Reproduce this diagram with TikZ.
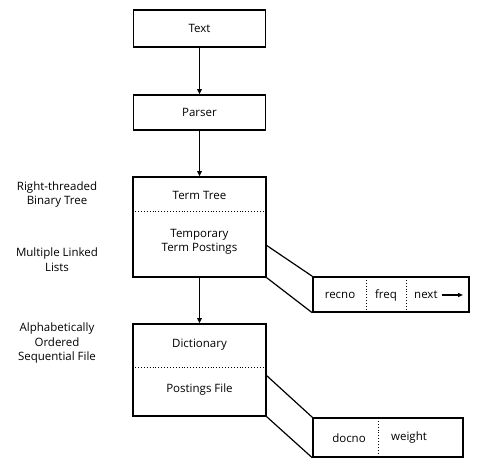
\documentclass[tikz,border=0pt]{standalone}
\usepackage{fontspec}
\setmainfont{Open Sans}
\usetikzlibrary{arrows.meta}
\begin{document}
\begin{tikzpicture}[x=1pt,y=-1pt,
  box/.style={draw,line width=1.5pt,rectangle,inner sep=0pt},
  lbl/.style={font=\fontsize{11.5}{14.5}\selectfont,inner sep=0pt,align=center},
  arr/.style={-{Triangle[length=5pt,width=4.5pt]},line width=1.3pt},
  sep/.style={dotted,line width=0.9pt},
  link/.style={line width=1.2pt}]
\useasboundingbox (0,0) rectangle (485,470);
% main column
\node[box,minimum width=132pt,minimum height=37pt] (text) at (199.5,28.5) {};
\node[lbl] (textl) at (text.center) {Text};
\node[box,minimum width=132pt,minimum height=35pt] (parser) at (199.5,112.5) {};
\node[lbl] (parserl) at (parser.center) {Parser};
\node[box,minimum width=133pt,minimum height=100pt] (tree) at (199.5,227) {};
\node[lbl] (treel) at (199.5,195) {Term Tree};
\node[lbl] (temp) at (199.5,242) {Temporary\\Term Postings};
\draw[sep] (tree.west |- 0,211) -- (tree.east |- 0,211);
\node[box,minimum width=133pt,minimum height=92pt] (dict) at (199.5,370) {};
\node[lbl] (dictl) at (199.5,345) {Dictionary};
\node[lbl] (post) at (199.5,390) {Postings File};
\draw[sep] (dict.west |- 0,367) -- (dict.east |- 0,367);
% arrows
\draw[arr] (text.south) -- (parser.north);
\draw[arr] (parser.south) -- (tree.north);
\draw[arr] (tree.south) -- (dict.north);
% record boxes
\node[box,minimum width=156pt,minimum height=35pt] (rec) at (391,294.5) {};
\draw[sep] (366,277) -- (366,312);
\draw[sep] (406,277) -- (406,312);
\node[lbl] (recno) at (340,295) {recno};
\node[lbl] (freq) at (386,295) {freq};
\node[lbl,anchor=west] (next) at (414,295) {next};
\coordinate (nextend) at (463,295);
\draw[-{Triangle[length=5pt,width=4pt]},line width=1.1pt] (next.east) ++(4,0) -- (nextend);
\coordinate (t1) at (266,245);
\draw[link] (t1) -- (rec.north west);
\draw[link] (tree.south east) -- (rec.south west);
\node[box,minimum width=150pt,minimum height=39pt] (doc) at (388,437.5) {};
\draw[sep] (378,418) -- (378,457);
\node[lbl] (docno) at (349,438) {docno};
\node[lbl] (weight) at (409,438) {weight};
\coordinate (d1) at (266,375);
\draw[link] (d1) -- (doc.north west);
\draw[link] (dict.south east) -- (doc.south west);
% left labels
\node[lbl] (rt) at (57,194.5) {Right-threaded\\Binary Tree};
\node[lbl] (ml) at (57,259.5) {Multiple Linked\\Lists};
\node[lbl] (ao) at (57,343.5) {Alphabetically\\Ordered\\Sequential File};
\end{tikzpicture}
\end{document}
